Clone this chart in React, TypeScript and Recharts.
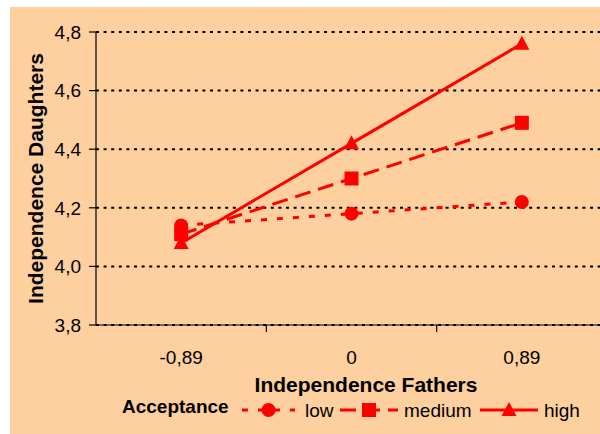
import React from 'react';
import { LineChart, Line, XAxis, YAxis, CartesianGrid } from 'recharts';

const categories = ['-0,89', '0', '0,89'];
const low = [4.14, 4.18, 4.22];
const medium = [4.11, 4.3, 4.49];
const high = [4.08, 4.42, 4.76];
const yTicks = [3.8, 4.0, 4.2, 4.4, 4.6, 4.8];

const RED = '#FF0000';
const FONT = '"Liberation Sans", Arial, sans-serif';

const data = categories.map((c, i) => ({ x: i, label: c, low: low[i], medium: medium[i], high: high[i] }));

const series = [
  { key: 'low', name: 'low', dash: '6 10', shape: 'circle' },
  { key: 'medium', name: 'medium', dash: '16 8', shape: 'square' },
  { key: 'high', name: 'high', dash: undefined, shape: 'triangle' },
];

const Marker = ({ shape, cx, cy }: { shape: string; cx: number; cy: number }) => {
  if (shape === 'circle') return <circle cx={cx} cy={cy} r={7} fill={RED} />;
  if (shape === 'square') return <rect x={cx - 7} y={cy - 7} width={14} height={14} fill={RED} />;
  return <polygon points={`${cx},${cy - 8} ${cx - 7.5},${cy + 6} ${cx + 7.5},${cy + 6}`} fill={RED} />;
};

const makeDot = (shape: string) => (p: any) => (
  <g key={`${shape}-${p.index}`}>
    <Marker shape={shape} cx={p.cx} cy={p.cy} />
  </g>
);

// labels on whole values, tick marks on the category borders
const XTick = (p: any) => {
  const v = p.payload.value;
  if (Number.isInteger(v)) {
    return (
      <text x={p.x} y={p.y + 32} textAnchor="middle" fontSize={19} fill="#000" fontFamily={FONT}>
        {categories[v]}
      </text>
    );
  }
  return <line x1={p.x} x2={p.x} y1={p.y - 7} y2={p.y} stroke="#000" strokeWidth={1.2} />;
};

const fmt = (v: number) => v.toFixed(1).replace('.', ',');

export default function App() {
  return (
    <div style={{ position: 'absolute', left: 10, top: 7, width: 590, height: 427, background: '#FECF9F', overflow: 'hidden', fontFamily: FONT }}>
      <LineChart width={620} height={427} data={data} margin={{ top: 25, right: 23, bottom: 0, left: 0 }}>
        <CartesianGrid horizontal vertical={false} stroke="#000" strokeDasharray="3 4.6" strokeWidth={2} />
        <XAxis
          dataKey="x"
          type="number"
          domain={[-0.5, 2.5]}
          ticks={[0, 0.5, 1, 1.5, 2]}
          height={109}
          tickSize={7}
          tickMargin={0}
          tickLine={false}
          axisLine={{ stroke: '#000', strokeWidth: 1.2 }}
          tick={XTick}
          interval={0}
          label={{
            content: ({ viewBox }: any) => (
              <text x={viewBox.x + 270} y={viewBox.y + 67} textAnchor="middle" fontSize={21} fontWeight="bold" fontFamily={FONT} fill="#000">
                Independence Fathers
              </text>
            ),
          }}
        />
        <YAxis
          width={86}
          domain={[3.8, 4.8]}
          ticks={yTicks}
          tickFormatter={fmt}
          tickSize={7}
          tickMargin={8}
          tick={{ fontSize: 19, fill: '#000', fontFamily: FONT }}
          tickLine={{ stroke: '#000', strokeWidth: 1.2 }}
          axisLine={{ stroke: '#000', strokeWidth: 1.2 }}
          label={{
            content: ({ viewBox }: any) => {
              const cx = viewBox.x + 25;
              const cy = viewBox.y + viewBox.height / 2;
              return (
                <text x={cx} y={cy} transform={`rotate(-90, ${cx}, ${cy})`} textAnchor="middle" dominantBaseline="central" fontSize={21} fontWeight="bold" fontFamily={FONT} fill="#000">
                  Independence Daughters
                </text>
              );
            },
          }}
        />
        {series.map((s) => (
          <Line
            key={s.key}
            type="linear"
            dataKey={s.key}
            name={s.name}
            stroke={RED}
            strokeWidth={3}
            strokeDasharray={s.dash}
            dot={makeDot(s.shape)}
            activeDot={false}
            isAnimationActive={false}
          />
        ))}
      </LineChart>
      <svg width={590} height={427} style={{ position: 'absolute', left: 0, top: 0, pointerEvents: 'none' }}>
        <text x={112} y={406} fontSize={19} fontWeight="bold" fontFamily={FONT} fill="#000">Acceptance</text>
        {series.map((s, i) => {
          const x0 = [232, 330, 470][i];
          const x1 = [285, 388, 528][i];
          const tx = [295, 394, 534][i];
          const mid = (x0 + x1) / 2;
          return (
            <g key={s.key}>
              <line x1={x0} x2={x1} y1={403} y2={403} stroke={RED} strokeWidth={3} strokeDasharray={s.dash} />
              <Marker shape={s.shape} cx={mid} cy={403} />
              <text x={tx} y={410} fontSize={19} fontFamily={FONT} fill="#000">{s.name}</text>
            </g>
          );
        })}
      </svg>
    </div>
  );
}
